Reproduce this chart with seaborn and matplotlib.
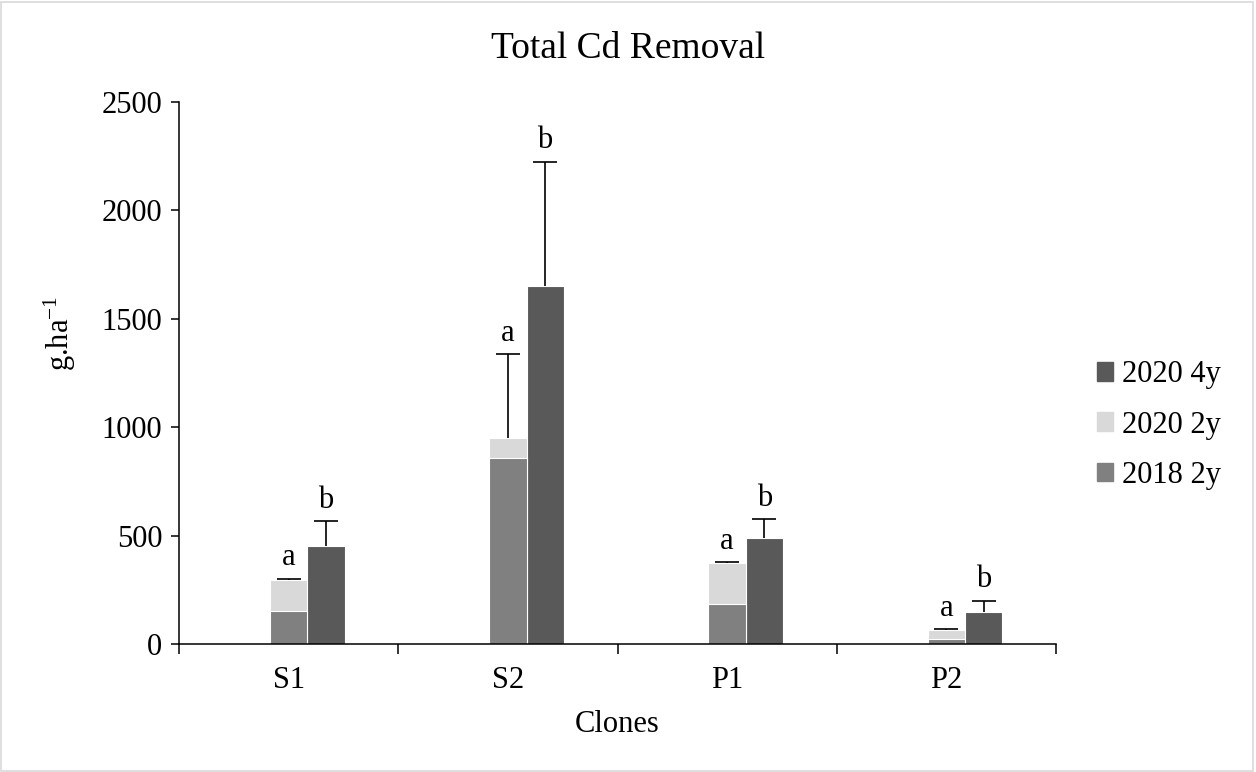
import numpy as np
import pandas as pd
import matplotlib.pyplot as plt
import seaborn as sns
from matplotlib.patches import Patch, Rectangle

# values (g/ha)
clones = ['S1', 'S2', 'P1', 'P2']
cd_2018_2y = [152, 860, 184, 25]
cd_2020_2y = [143, 92, 189, 38]      # stacked on top of 2018 2y
err_2y = [6, 385, 3, 5]
cd_2020_4y = [450, 1650, 487, 148]
err_4y = [116, 575, 90, 52]
letters_2y = ['a', 'a', 'a', 'a']
letters_4y = ['b', 'b', 'b', 'b']

c_2018 = '#808080'
c_2020_2y = '#d9d9d9'
c_2020_4y = '#595959'

sns.set_theme(style='white')
plt.rcParams['font.family'] = ['Liberation Serif', 'DejaVu Serif']
plt.rcParams['mathtext.fontset'] = 'custom'
plt.rcParams['mathtext.rm'] = 'Liberation Serif'
plt.rcParams['mathtext.it'] = 'Liberation Serif'
plt.rcParams['text.color'] = 'black'
plt.rcParams['axes.labelcolor'] = 'black'
plt.rcParams['xtick.color'] = 'black'
plt.rcParams['ytick.color'] = 'black'

FS = 22

total_2y = [a + b for a, b in zip(cd_2018_2y, cd_2020_2y)]
top_df = pd.DataFrame({
    'clone': clones * 2,
    'group': ['2y'] * 4 + ['4y'] * 4,
    'value': total_2y + cd_2020_4y,
})
base_df = pd.DataFrame({'clone': clones, 'group': ['2y'] * 4, 'value': cd_2018_2y})

fig = plt.figure(figsize=(12.56, 7.72), dpi=100)
ax = fig.add_axes([179 / 1256, 1 - 644 / 772, (1056 - 179) / 1256, (644 - 102) / 772])

bar_kw = dict(x='clone', y='value', hue='group', order=clones, hue_order=['2y', '4y'],
              width=0.34, dodge=True, errorbar=None, legend=False,
              edgecolor='white', linewidth=0.8, saturation=1, ax=ax)
sns.barplot(data=top_df, palette={'2y': c_2020_2y, '4y': c_2020_4y}, **bar_kw)
sns.barplot(data=base_df, palette={'2y': c_2018, '4y': c_2020_4y}, **bar_kw)

# error bars (upper only) + letters
x_2y = [p.get_x() + p.get_width() / 2 for p in ax.containers[0]]
x_4y = [p.get_x() + p.get_width() / 2 for p in ax.containers[1]]
for xs, ys, es, labs in [(x_2y, total_2y, err_2y, letters_2y), (x_4y, cd_2020_4y, err_4y, letters_4y)]:
    eb = ax.errorbar(xs, ys, yerr=[np.zeros(len(es)), es], fmt='none', ecolor='black',
                     elinewidth=1.2, capsize=8.5, capthick=1.2)
    eb[1][0].set_visible(False)   # no cap at the bar top
    for x, y, e, lab in zip(xs, ys, es, labs):
        ax.annotate(lab, (x, y + e), xytext=(0, 4.5), textcoords='offset points',
                    ha='center', va='bottom', fontsize=FS)

# axes styling (category centred on the stacked bar)
off = 0.085
ax.set_xlim(-0.5 - off, 3.5 - off)
ax.set_ylim(0, 2500)
ax.set_yticks(np.arange(0, 2501, 500))
ax.set_xticks([k - off for k in range(4)], clones)
ax.set_xticks([k - 0.5 - off for k in range(5)], minor=True)
ax.tick_params(axis='x', which='major', length=0, pad=16, labelsize=FS)
ax.tick_params(axis='x', which='minor', length=7, width=1.1, direction='out', color='black', bottom=True)
ax.tick_params(axis='y', length=6, width=1.1, direction='out', color='black', left=True, labelsize=FS, pad=6)
for s in ['top', 'right']:
    ax.spines[s].set_visible(False)
for s in ['left', 'bottom']:
    ax.spines[s].set_color('black')
    ax.spines[s].set_linewidth(1.1)

ax.set_xlabel('Clones', fontsize=FS, labelpad=11)
ax.set_ylabel('')
fig.text(60 / 1256, 1 - 333 / 772, r'g.ha$^{\mathregular{-1}}$', rotation=90,
         ha='center', va='center', fontsize=FS)
fig.text(0.5, 1 - 58 / 772, 'Total Cd Removal', ha='center', va='baseline', fontsize=27)

handles = [Patch(color=c_2020_4y, label='2020 4y'),
           Patch(color=c_2020_2y, label='2020 2y'),
           Patch(color=c_2018, label='2018 2y')]
fig.legend(handles=handles, loc='center left', bbox_to_anchor=(1069 / 1256, 1 - 425 / 772),
           frameon=False, fontsize=FS, handlelength=0.55, handleheight=0.55,
           handletextpad=0.3, labelspacing=0.7)

fig.patches.append(Rectangle((0.001, 0.001), 0.997, 0.997, transform=fig.transFigure,
                             fill=False, edgecolor='#d9d9d9', linewidth=1.2))

fig.savefig('out.png', dpi=100, facecolor='white')
